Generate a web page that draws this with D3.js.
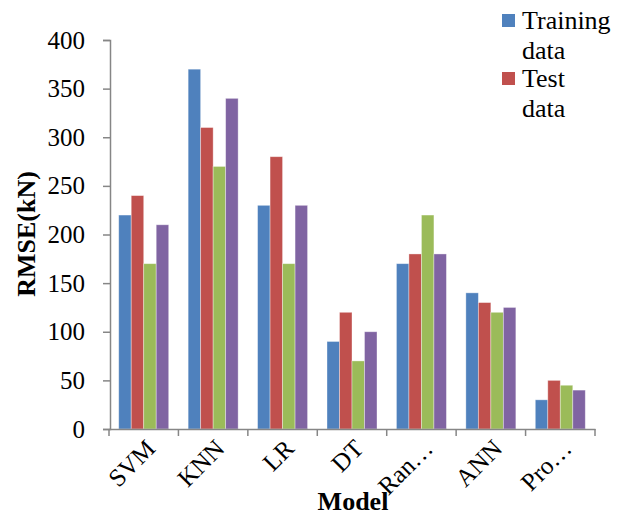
<!DOCTYPE html>
<html><head><meta charset="utf-8">
<script src="https://cdnjs.cloudflare.com/ajax/libs/d3/7.8.5/d3.min.js"></script>
<style>body{margin:0;background:#fff}svg{display:block}text{font-family:"Liberation Serif","Times New Roman",serif}</style>
</head><body>
<script>
const categories = ["SVM","KNN","LR","DT","Ran…","ANN","Pro…"];
const seriesNames = ["Training data","Test data","Series3","Series4"];
const training = [220,370,230,90,170,140,30];
const test = [240,310,280,120,180,130,50];
const series3 = [170,270,170,70,220,120,45];
const series4 = [210,340,230,100,180,125,40];
const yTicks = [0,50,100,150,200,250,300,350,400];
const colors = ["#4F81BD","#C0504D","#9BBB59","#8064A2"];
const allSeries = [training,test,series3,series4];

const W=627,H=517,FS=25;
const svg=d3.select("body").append("svg").attr("width",W).attr("height",H);
const x=d3.scaleBand().domain(categories).range([109,595]).paddingInner(0.28).paddingOuter(0.14);
const y=d3.scaleLinear().domain([0,400]).range([429,40]);
const xs=d3.scaleBand().domain(d3.range(4)).range([0,x.bandwidth()]);

// bars
categories.forEach((c,i)=>{
  allSeries.forEach((s,j)=>{
    svg.append("rect").attr("x",x(c)+xs(j)).attr("y",y(s[i]))
      .attr("width",xs.bandwidth()).attr("height",y(0)-y(s[i]))
      .attr("fill",colors[j]).attr("stroke","#fff").attr("stroke-opacity",0.45).attr("stroke-width",0.8);
  });
});

// y axis
const ya=svg.append("g").attr("transform","translate(110,0)")
  .call(d3.axisLeft(y).tickValues(yTicks).tickSize(7).tickPadding(18));
ya.select(".domain").attr("stroke","#868686").attr("stroke-width",1.5);
ya.selectAll(".tick line").attr("stroke","#868686").attr("stroke-width",1.5);
ya.selectAll(".tick text").attr("font-size",FS).attr("fill","#000").attr("font-family","Liberation Serif");

// x axis
const xa=svg.append("g").attr("transform","translate(0,429)")
  .call(d3.axisBottom(x).tickSize(0).tickFormat(d=>d));
xa.select(".domain").attr("stroke","#868686").attr("stroke-width",1.5);
xa.selectAll(".tick text").attr("font-size",FS).attr("fill","#000").attr("font-family","Liberation Serif")
  .attr("text-anchor","end").attr("dy",0).attr("y",0)
  .attr("transform","translate(13,21) rotate(-45)");
// category boundary ticks
const bounds=categories.map(c=>x(c)-x.step()*x.paddingInner()/2).concat([595]);
bounds[0]=109;
svg.append("g").selectAll("line").data(bounds).join("line")
  .attr("x1",d=>d).attr("x2",d=>d).attr("y1",429).attr("y2",436)
  .attr("stroke","#868686").attr("stroke-width",1.5);

// axis titles
svg.append("text").attr("transform","translate(35,234) rotate(-90)").attr("text-anchor","middle")
  .attr("font-size",FS+1).attr("font-weight","bold").text("RMSE(kN)");
svg.append("text").attr("x",353).attr("y",510).attr("text-anchor","middle")
  .attr("font-size",FS+1).attr("font-weight","bold").text("Model");

// legend
const leg=[{n:"Training data",c:colors[0],y:29,dy:30},{n:"Test data",c:colors[1],y:87,dy:30}];
leg.forEach(l=>{
  svg.append("rect").attr("x",502).attr("y",l.y-15).attr("width",13).attr("height",13).attr("fill",l.c);
  const parts=l.n.split(" ");
  svg.append("text").attr("x",522).attr("y",l.y).attr("font-size",FS+1).text(parts[0]);
  svg.append("text").attr("x",522).attr("y",l.y+l.dy).attr("font-size",FS+1).text(parts[1]);
});
</script>
</body></html>
